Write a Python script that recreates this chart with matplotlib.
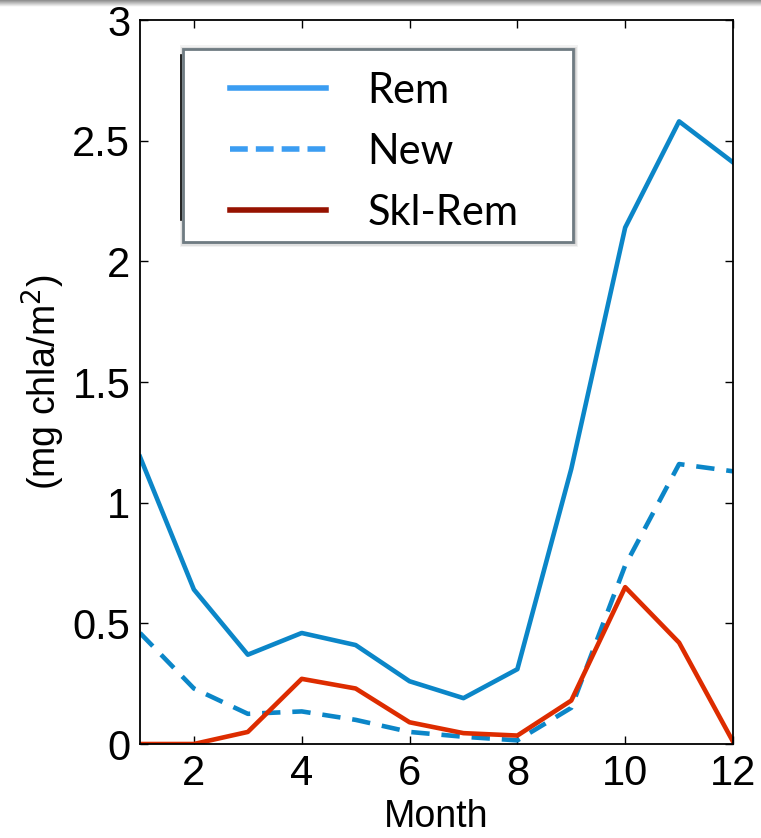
import matplotlib.pyplot as plt
import numpy as np
from matplotlib.lines import Line2D
from matplotlib.patches import Rectangle

# Monthly values (mg chla/m^2)
months = [1, 2, 3, 4, 5, 6, 7, 8, 9, 10, 11, 12]
rem = [1.19, 0.64, 0.37, 0.46, 0.41, 0.26, 0.19, 0.31, 1.14, 2.14, 2.58, 2.41]
new = [0.46, 0.23, 0.125, 0.135, 0.10, 0.05, 0.03, 0.015, 0.15, 0.74, 1.16, 1.13]
skl_rem = [0.0, 0.0, 0.05, 0.27, 0.23, 0.09, 0.045, 0.035, 0.18, 0.65, 0.42, 0.01]
labels = ["Rem", "New", "Skl-Rem"]

plt.rcParams["font.family"] = ["Liberation Sans", "DejaVu Sans"]

W, H = 761, 838
fig = plt.figure(figsize=(W / 100, H / 100), dpi=100)
ax_l, ax_b, ax_w, ax_h = 140, 94, 593, 724
ax = fig.add_axes([ax_l / W, ax_b / H, ax_w / W, ax_h / H])


def px(x, y):
    # pixel position (from top-left of figure) -> axes fraction
    return (x - ax_l) / ax_w, (H - y - ax_b) / ax_h


blue = "#0b86c8"
red = "#dd2c00"
ax.plot(months, rem, color=blue, lw=3.3)
ax.plot(months, new, color=blue, lw=3.3, dashes=(4, 2.6))
ax.plot(months, skl_rem, color=red, lw=3.3)

ax.set_xlim(1, 12)
ax.set_ylim(0, 3)
ax.set_xticks([2, 4, 6, 8, 10, 12])
ax.set_yticks([0, 0.5, 1, 1.5, 2, 2.5, 3])
ax.set_yticklabels(["0", "0.5", "1", "1.5", "2", "2.5", "3"])
ax.tick_params(direction="in", top=True, right=True, length=6, width=1,
               labelsize=30, pad=7)
for s in ax.spines.values():
    s.set_linewidth(1.3)

ax.set_xlabel("Month", fontsize=27, labelpad=4)
ax.set_ylabel("(mg chla/m$^2$)", fontsize=27, labelpad=4)

# legend box: soft shadow, then frame
x0, y0 = px(183, 242)
x1, y1 = px(573, 49)
for i, a in enumerate([0.05, 0.07, 0.10]):
    g = (3 - i) * 1.5
    gx, gy = g / ax_w, g / ax_h
    ax.add_patch(Rectangle((x0 - gx + 1 / ax_w, y0 - gy - 1 / ax_h),
                           x1 - x0 + 2 * gx, y1 - y0 + 2 * gy,
                           transform=ax.transAxes, facecolor="k",
                           edgecolor="none", alpha=a, zorder=4))
ax.add_patch(Rectangle((x0, y0), x1 - x0, y1 - y0, transform=ax.transAxes,
                       facecolor="white", edgecolor="#6f7b82", lw=2, zorder=4))
ax.plot(*zip(px(181, 55), px(181, 220)), color="k", lw=1.2,
        transform=ax.transAxes, zorder=4.5)

handles = [
    Line2D([], [], color="#3b9df2", lw=4),
    Line2D([], [], color="#3b9df2", lw=4, dashes=(3.2, 1.45)),
    Line2D([], [], color="#961200", lw=4),
]
leg = ax.legend(handles, labels, loc="upper left", bbox_to_anchor=px(230, 72),
                borderaxespad=0, borderpad=0, frameon=False,
                prop={"family": "Lato", "size": 30},
                handlelength=2.3, handletextpad=1.0, labelspacing=0.55)
leg.set_zorder(5)

# thin grey band along the top edge
band = fig.add_axes([0, 1 - 7 / H, 1, 7 / H])
grad = np.linspace(0.55, 1.0, 16).reshape(-1, 1)
band.imshow(grad, cmap="gray", vmin=0, vmax=1, aspect="auto")
band.axis("off")

fig.savefig("out.png", dpi=100)
